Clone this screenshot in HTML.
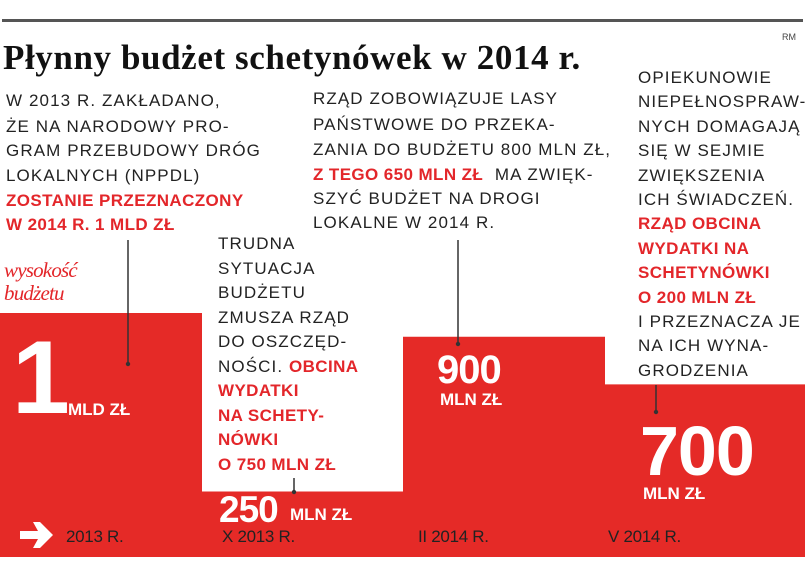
<!DOCTYPE html>
<html><head><meta charset="utf-8">
<style>
body{margin:0;background:#fff;}
#wrap{position:relative;width:805px;height:568px;overflow:hidden;background:#fff;font-family:"Liberation Sans",sans-serif;}
.t{position:absolute;white-space:nowrap;font-size:17px;color:#222;line-height:17px;letter-spacing:1.1px;}
.r{color:#e3262a;font-weight:bold;letter-spacing:0.4px;}
.w{color:#fff;font-weight:bold;position:absolute;white-space:nowrap;}
.lab{position:absolute;font-size:17px;color:#222;white-space:nowrap;letter-spacing:-0.3px;}
</style></head><body>
<div id="wrap">
<div style="position:absolute;left:2px;top:19px;width:801px;height:3px;background:#555"></div>
<div style="position:absolute;left:3px;top:38px;font-family:'Liberation Serif',serif;font-weight:bold;font-size:35px;color:#111;letter-spacing:0.6px">Płynny budżet schetynówek w 2014 r.</div>
<div style="position:absolute;left:782px;top:32px;font-size:9px;color:#444">RM</div>

<svg id="chart" width="805" height="568" style="position:absolute;left:0;top:0"></svg>

<div id="texts"></div>
</div>
<script>
const periods=["2013 R.","X 2013 R.","II 2014 R.","V 2014 R."];
const values=[1000,250,900,700];
const stepX=[0,202,403,605,805];
const baseY=557;
function yScale(v){return baseY-(6+v*0.238);}
const svg=document.getElementById('chart');
const NS="http://www.w3.org/2000/svg";
let d="M0,"+baseY;
for(let i=0;i<values.length;i++){d+=" L"+stepX[i]+","+yScale(values[i])+" L"+stepX[i+1]+","+yScale(values[i]);}
d+=" L805,"+baseY+" Z";
const p=document.createElementNS(NS,'path');
p.setAttribute('d',d);p.setAttribute('fill','#e52a27');


svg.appendChild(p);
const leaders=[[128,240,364],[294,478,492],[458,240,344],[656,385,412]];
leaders.forEach(function(l){
 const ln=document.createElementNS(NS,'line');
 ln.setAttribute('x1',l[0]);ln.setAttribute('x2',l[0]);ln.setAttribute('y1',l[1]);ln.setAttribute('y2',l[2]);
 ln.setAttribute('stroke','#333');ln.setAttribute('stroke-width','1.5');
 
 
 svg.appendChild(ln);
 const c=document.createElementNS(NS,'circle');
 c.setAttribute('cx',l[0]);c.setAttribute('cy',l[2]);c.setAttribute('r','2.2');c.setAttribute('fill','#333');
 
 
 svg.appendChild(c);
});
const ar=document.createElementNS(NS,'path');
ar.setAttribute('d','M20,531 L38,531 L33,522 L40,522 L53,535 L40,548 L33,548 L38,539 L20,539 Z');
ar.setAttribute('fill','#fff');


svg.appendChild(ar);
const labX=[66,222,418,608];
periods.forEach(function(s,i){
 const e=document.createElement('div');e.className='lab';
 e.style.left=labX[i]+'px';e.style.top='527px';e.textContent=s;
 
 
 document.getElementById('wrap').appendChild(e);
});
</script>
<script>
const W=document.getElementById('wrap');
function add(html,x,y,name,cls,style){
 const e=document.createElement('div');e.className=cls||'t';
 e.style.left=x+'px';e.style.top=y+'px';if(style)e.style.cssText+=style;
 e.innerHTML=html;
 
 
 W.appendChild(e);
}
const left=["W 2013 R. ZAKŁADANO,","ŻE NA NARODOWY PRO-","GRAM PRZEBUDOWY DRÓG","LOKALNYCH (NPPDL)","<span class='r'>ZOSTANIE PRZEZNACZONY</span>","<span class='r'>W 2014 R. 1 MLD ZŁ</span>"];
const leftY=[92,118,142,167,192,216];
left.forEach(function(s,i){add(s,6,leftY[i],'note-2013-line');});
const mid=["RZĄD ZOBOWIĄZUJE LASY","PAŃSTWOWE DO PRZEKA-","ZANIA DO BUDŻETU 800 MLN ZŁ,","<span class='r'>Z TEGO 650 MLN ZŁ</span>&nbsp; MA ZWIĘK-","SZYĆ BUDŻET NA DROGI","LOKALNE W 2014 R."];
const midY=[90,116,141,166,190,214];
mid.forEach(function(s,i){add(s,313,midY[i],'note-forests-line');});
const right=["OPIEKUNOWIE","NIEPEŁNOSPRAW-","NYCH DOMAGAJĄ","SIĘ W SEJMIE","ZWIĘKSZENIA","ICH ŚWIADCZEŃ.","<span class='r'>RZĄD OBCINA</span>","<span class='r'>WYDATKI NA</span>","<span class='r'>SCHETYNÓWKI</span>","<span class='r'>O 200 MLN ZŁ</span>","I PRZEZNACZA JE","NA ICH WYNA-","GRODZENIA"];
right.forEach(function(s,i){add(s,638,69+i*24.4,'note-carers-line');});
const trud=["TRUDNA","SYTUACJA","BUDŻETU","ZMUSZA RZĄD","DO OSZCZĘD-","NOŚCI. <span class='r'>OBCINA</span>","<span class='r'>WYDATKI</span>","<span class='r'>NA SCHETY-</span>","<span class='r'>NÓWKI</span>","<span class='r'>O 750 MLN ZŁ</span>"];
trud.forEach(function(s,i){add(s,218,235+i*24.5,'note-cuts-line');});
add("wysokość<br>budżetu",4,259,'budget-height-label','t',"font-family:'Liberation Serif',serif;font-style:italic;color:#e3262a;font-size:21px;line-height:23px;letter-spacing:-0.8px");
add("1",12,326,'value-1','w',"font-size:104px;line-height:104px;letter-spacing:-3px");
add("MLD ZŁ",68,400,'unit-1','w',"font-size:17px");
add("900",437,350,'value-900','w',"font-size:40px;line-height:40px;letter-spacing:-1px");
add("MLN ZŁ",440,390,'unit-900','w',"font-size:17px");
add("700",640,416,'value-700','w',"font-size:70px;line-height:70px;letter-spacing:-1px");
add("MLN ZŁ",643,484,'unit-700','w',"font-size:17px");
add("250",219,491,'value-250','w',"font-size:37px;line-height:37px;letter-spacing:-1px");
add("MLN ZŁ",290,505,'unit-250','w',"font-size:17px");
</script>
</body></html>
